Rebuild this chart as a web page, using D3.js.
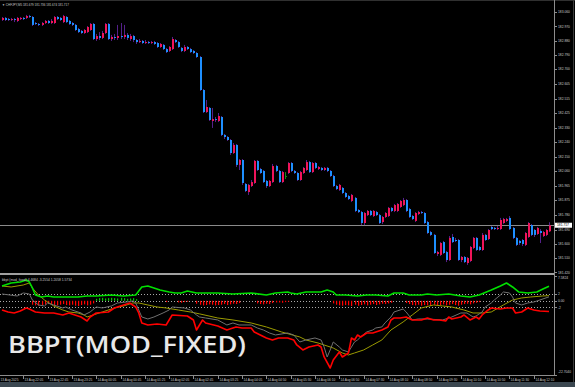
<!DOCTYPE html>
<html>
<head>
<meta charset="utf-8">
<script src="https://cdn.jsdelivr.net/npm/d3@7"></script>
<style>
  html, body { margin: 0; padding: 0; background: #000; overflow: hidden; }
</style>
</head>
<body>
<div id="chart"></div>
<script>
// Svg defs
let w = 575,
    h = 387;

// Data defs : candles as [open, high, low, close], CHFJPY M5
const candles = [
  [183.010,183.029,183.004,183.023],[183.023,183.029,183.004,183.010],[183.016,183.023,183.004,183.010],[183.010,183.023,183.004,183.016],
  [183.016,183.023,182.997,183.010],[183.004,183.029,182.997,183.023],[183.016,183.029,183.010,183.023],[183.023,183.029,183.010,183.016],
  [183.023,183.042,183.016,183.035],[183.035,183.042,183.023,183.029],[183.029,183.035,182.972,182.979],[182.991,182.997,182.979,182.985],
  [182.985,182.991,182.972,182.979],[182.979,182.997,182.972,182.991],[182.991,183.010,182.985,183.004],[183.004,183.010,182.985,182.991],
  [182.991,183.016,182.985,183.004],[182.991,183.035,182.985,183.029],[183.029,183.035,183.010,183.016],[183.023,183.029,183.004,183.010],
  [182.997,183.042,182.991,183.035],[183.029,183.035,182.991,182.997],[183.004,183.010,182.979,182.985],[182.991,182.997,182.972,182.979],
  [182.979,182.985,182.941,182.947],[182.953,182.960,182.928,182.934],[182.941,182.947,182.922,182.928],[182.928,182.953,182.922,182.947],
  [182.934,182.972,182.928,182.966],[182.947,182.991,182.941,182.985],[182.985,182.991,182.884,182.890],[182.890,182.922,182.878,182.909],
  [182.909,182.934,182.884,182.897],[182.897,182.941,182.890,182.928],[182.928,182.991,182.922,182.985],[182.985,182.991,182.884,182.890],
  [182.890,182.916,182.878,182.903],[182.903,182.922,182.884,182.897],[182.897,182.979,182.884,182.909],[182.909,182.991,182.890,182.903],
  [182.903,182.979,182.890,182.916],[182.916,182.928,182.884,182.897],[182.890,182.922,182.878,182.909],[182.909,182.916,182.871,182.884],
  [182.884,182.890,182.859,182.871],[182.871,182.890,182.865,182.878],[182.878,182.884,182.859,182.865],[182.865,182.884,182.859,182.871],
  [182.871,182.878,182.859,182.865],[182.865,182.878,182.859,182.871],[182.871,182.878,182.853,182.859],[182.865,182.871,182.834,182.840],
  [182.840,182.865,182.834,182.859],[182.853,182.859,182.821,182.827],[182.827,182.834,182.802,182.808],[182.815,182.846,182.808,182.840],
  [182.827,182.903,182.821,182.890],[182.884,182.890,182.865,182.871],[182.871,182.878,182.834,182.840],[182.834,182.840,182.808,182.815],
  [182.815,182.853,182.808,182.840],[182.840,182.846,182.821,182.827],[182.827,182.834,182.802,182.808],[182.815,182.821,182.796,182.802],
  [182.802,182.808,182.771,182.777],[182.777,182.783,182.563,182.569],[182.569,182.575,182.424,182.430],[182.430,182.506,182.424,182.462],
  [182.456,182.462,182.374,182.380],[182.374,182.456,182.330,182.386],[182.386,182.399,182.367,182.380],[182.374,182.424,182.367,182.405],
  [182.399,182.405,182.279,182.286],[182.286,182.292,182.260,182.273],[182.273,182.279,182.248,182.254],[182.254,182.260,182.160,182.172],
  [182.172,182.235,182.166,182.223],[182.223,182.229,182.084,182.097],[182.097,182.134,182.065,182.128],[182.128,182.134,181.971,181.983],
  [181.977,181.983,181.926,181.933],[181.926,181.977,181.908,181.971],[181.964,182.002,181.958,181.989],[181.983,182.128,181.977,182.122],
  [182.122,182.128,182.059,182.065],[182.071,182.078,182.040,182.046],[182.059,182.065,181.983,181.989],[181.996,182.002,181.952,181.964],
  [181.964,182.002,181.958,181.996],[181.989,182.103,181.983,182.090],[182.090,182.097,182.052,182.059],[182.059,182.065,181.983,181.989],
  [181.989,182.059,181.983,182.052],[182.027,182.052,182.008,182.027],[182.046,182.115,182.040,182.109],[182.109,182.115,182.052,182.059],
  [182.059,182.065,182.040,182.046],[182.046,182.052,181.996,182.002],[182.002,182.059,181.996,182.052],[182.046,182.084,182.040,182.078],
  [182.065,182.128,182.059,182.115],[182.115,182.122,182.046,182.052],[182.052,182.115,182.046,182.109],[182.109,182.115,182.071,182.078],
  [182.071,182.090,182.065,182.084],[182.078,182.084,182.059,182.065],[182.065,182.084,182.059,182.078],[182.078,182.084,182.052,182.059],
  [182.059,182.065,182.021,182.027],[182.027,182.034,181.958,181.964],[181.964,181.971,181.939,181.945],[181.939,181.977,181.933,181.971],
  [181.952,181.958,181.914,181.920],[181.920,181.926,181.889,181.895],[181.901,181.908,181.876,181.882],[181.870,181.914,181.863,181.908],
  [181.889,181.895,181.800,181.807],[181.813,181.819,181.794,181.800],[181.800,181.807,181.718,181.731],[181.731,181.800,181.718,181.794],
  [181.781,181.813,181.775,181.807],[181.807,181.813,181.775,181.781],[181.775,181.813,181.769,181.807],[181.800,181.807,181.775,181.781],
  [181.781,181.788,181.725,181.731],[181.737,181.775,181.725,181.769],[181.769,181.800,181.763,181.794],[181.775,181.832,181.769,181.826],
  [181.826,181.832,181.800,181.807],[181.807,181.851,181.800,181.844],[181.807,181.857,181.800,181.851],[181.832,181.876,181.826,181.870],
  [181.844,181.889,181.838,181.876],[181.876,181.882,181.800,181.807],[181.819,181.826,181.763,181.769],[181.775,181.781,181.750,181.756],
  [181.744,181.800,181.737,181.794],[181.788,181.807,181.781,181.800],[181.800,181.807,181.788,181.794],[181.794,181.800,181.725,181.731],
  [181.737,181.744,181.662,181.668],[181.674,181.681,181.649,181.656],[181.656,181.662,181.536,181.542],[181.536,181.555,181.523,181.548],
  [181.530,181.611,181.523,181.605],[181.611,181.618,181.536,181.542],[181.548,181.555,181.485,181.498],[181.498,181.649,181.492,181.637],
  [181.643,181.662,181.605,181.611],[181.624,181.637,181.611,181.618],[181.624,181.630,181.492,181.498],[181.498,181.523,181.485,181.517],
  [181.517,181.523,181.479,181.485],[181.479,181.517,181.467,181.511],[181.492,181.586,181.485,181.580],[181.574,181.643,181.567,181.637],
  [181.637,181.643,181.555,181.561],[181.580,181.586,181.555,181.561],[181.561,181.668,181.555,181.656],[181.656,181.662,181.618,181.624],
  [181.630,181.693,181.624,181.687],[181.706,181.712,181.687,181.693],[181.700,181.706,181.687,181.693],[181.693,181.712,181.687,181.700],
  [181.693,181.763,181.687,181.750],[181.731,181.763,181.725,181.756],[181.744,181.763,181.737,181.756],[181.763,181.775,181.687,181.693],
  [181.700,181.706,181.630,181.637],[181.637,181.643,181.586,181.593],[181.618,181.624,181.593,181.605],[181.624,181.630,181.586,181.599],
  [181.593,181.674,181.586,181.668],[181.643,181.737,181.637,181.731],[181.718,181.725,181.649,181.656],[181.687,181.693,181.643,181.656],
  [181.662,181.706,181.656,181.700],[181.681,181.693,181.605,181.668],[181.649,181.681,181.643,181.674],[181.656,181.693,181.649,181.687],
  [181.679,181.736,181.674,181.717]
];

const priceTicks = [183.060, 182.970, 182.880, 182.790, 182.700, 182.605, 182.515, 182.425, 182.330, 182.240,
                    182.150, 182.060, 181.965, 181.875, 181.780, 181.690, 181.600, 181.510, 181.420];
const lastPrice = 181.717;

const timeIdx = [-1, 7, 15, 23, 31, 39, 47, 55, 63, 71, 79, 87, 95, 103, 111, 119, 127, 135, 143, 151, 159, 167, 175];
const timeLabels = ["13 Aug 2025", "13 Aug 22:05", "13 Aug 22:45", "13 Aug 23:25", "14 Aug 00:05", "14 Aug 00:45",
                    "14 Aug 01:25", "14 Aug 02:05", "14 Aug 02:45", "14 Aug 03:25", "14 Aug 04:05", "14 Aug 04:50",
                    "14 Aug 05:30", "14 Aug 06:10", "14 Aug 06:50", "14 Aug 07:30", "14 Aug 08:10", "14 Aug 08:50",
                    "14 Aug 09:30", "14 Aug 10:10", "14 Aug 10:50", "14 Aug 11:30", "14 Aug 12:10"];

// Indicator (bbpt mod_fixed) : histogram, one value per bar
const hist = [
  0,0,0,0,0,0,0,0,0,0,
  -1.2,-1.4,-1.5,-1.3,-1.2,-1.0,-1.3,-1.5,-1.4,-1.2,-1.0,-1.3,-1.4,-1.2,-1.5,-1.6,-1.3,-1.1,-1.4,-1.2,-0.8,
  0.6,0.8,0.9,0.7,0.8,0.9,0.8,0.7,0.9,0.8,0.6,0.7,0.8,0.5,
  0,0,0,0,0,0,0,0,0,
  -0.4, 0,0,0, -0.5,-0.6,-0.4,-0.3, 0,0,
  -0.9,-1.2,-1.4,-1.3,-1.1,-1.2,-1.4,-1.3,-1.2,-1.0,-1.3,-1.1,-0.9,-1.0,-0.7,
  0,0,0,0,0,
  -0.8,-1.0,-1.1,-0.9,-1.0,-0.7,-0.5,
  -0.5,-0.6,-0.4,-0.3,
  0,0,0,0,0,0,0,0,0,0,0,0,0,0,
  -0.8,-1.2,-1.4,-1.5,-1.3,-1.4,-1.6,-1.2,-1.5,-1.3,-1.1,-1.4,-1.2,-1.0,-1.3,-1.1,-0.9,-1.0,-0.8,-0.6,
  0,0,0,0,
  -0.7,-1.0,-1.3,-1.4,-1.2,-1.5,-1.3,-1.4,-1.6,-1.2,-1.5,-1.3,-1.1,-1.4,-1.2,-1.0,-1.3,-1.5,-1.2,-1.0,-0.9,-1.1,-0.8,-0.6,-0.4,
  0,0,0,0,0,0,0,0,0,0,0,0,0,0,0,0,0,0,0,0,0,0,0
];

// lines as [bar, value]
const upperLine = [[0,4.53],[3,5.45],[6,5.75],[8,6.36],[9,5.75],[10,3.92],[11,1.77],[13,1.16],[15,1.47],[17,1.16],
  [20,1.16],[25,1.16],[28,1.47],[31,1.47],[36,1.77],[40,1.47],[44,1.77],[45,3.0],[46,4.22],[48,4.53],[50,3.92],
  [52,3.3],[55,2.69],[57,2.39],[59,2.39],[61,3.0],[64,2.39],[71,2.39],[76,2.08],[82,2.39],[87,1.77],[90,2.39],
  [94,2.69],[95,2.39],[97,2.08],[100,2.69],[105,2.69],[107,3.3],[109,2.69],[110,1.77],[113,1.77],[117,1.47],
  [120,1.77],[123,1.77],[127,1.47],[129,2.39],[132,2.39],[134,1.77],[138,1.77],[140,2.08],[143,1.77],[147,2.08],
  [151,1.47],[154,1.16],[157,1.77],[161,3.3],[164,4.53],[166,5.45],[168,4.22],[170,2.69],[173,2.39],[176,2.69],
  [178,3.61],[180,4.47]];

const lowerLine = [[0,-2.81],[2,-3.43],[4,-3.73],[6,-3.12],[8,-2.2],[9,-2.51],[11,-3.43],[14,-3.73],[17,-3.73],
  [20,-4.34],[22,-3.73],[26,-4.96],[28,-6.18],[29,-4.96],[31,-3.73],[35,-3.43],[37,-2.2],[40,-1.28],[42,-0.67],
  [44,-1.9],[45,-3.73],[46,-6.79],[48,-7.4],[51,-7.1],[54,-7.4],[55,-5.87],[56,-4.34],[61,-4.65],[63,-5.87],
  [64,-8.93],[65,-7.4],[66,-5.87],[67,-6.79],[71,-7.7],[74,-8.93],[77,-8.01],[79,-8.32],[82,-8.32],[83,-9.54],
  [85,-10.46],[87,-11.38],[89,-11.99],[91,-11.38],[94,-11.38],[96,-11.99],[97,-13.52],[99,-15.05],[101,-14.13],
  [104,-13.52],[105,-14.13],[106,-17.19],[108,-20.56],[109,-18.11],[111,-15.66],[112,-17.19],[114,-15.97],
  [115,-11.38],[116,-11.99],[117,-10.46],[118,-11.07],[120,-9.85],[122,-9.85],[123,-9.54],[125,-8.93],[127,-8.01],
  [128,-5.87],[129,-5.26],[131,-5.26],[133,-4.96],[135,-5.87],[138,-5.87],[140,-5.26],[142,-5.87],[144,-5.87],
  [146,-6.18],[147,-4.96],[148,-5.57],[151,-4.96],[152,-4.34],[154,-5.87],[156,-4.96],[157,-5.57],[158,-4.34],
  [160,-2.81],[161,-2.2],[164,-2.51],[166,-2.2],[168,-2.2],[169,-3.73],[171,-3.43],[173,-2.2],[175,-2.81],
  [177,-3.12],[180,-3.26]];

const signalLine = [[0,2.08],[5,1.47],[7,2.39],[9,2.08],[10,0.24],[12,-1.28],[14,-1.59],[15,-0.67],[17,-1.28],
  [20,-2.2],[21,-1.9],[23,-2.81],[26,-3.73],[27,-4.34],[29,-3.43],[31,-1.9],[33,-2.2],[36,-1.59],[38,-0.67],
  [41,-0.37],[43,-0.06],[44,-0.67],[45,-2.81],[46,-4.96],[48,-5.57],[50,-4.96],[53,-3.73],[55,-2.81],[56,-1.9],
  [60,-2.2],[62,-2.81],[64,-4.34],[65,-4.96],[67,-5.26],[71,-5.87],[74,-7.4],[76,-6.79],[78,-7.4],[82,-7.4],
  [84,-8.32],[86,-8.93],[88,-9.85],[90,-10.46],[94,-9.85],[96,-10.46],[98,-12.6],[100,-11.99],[103,-11.38],
  [105,-11.99],[106,-14.13],[107,-17.19],[108,-15.05],[109,-12.6],[111,-14.13],[112,-15.05],[114,-15.66],
  [115,-14.13],[116,-12.6],[117,-11.99],[118,-11.07],[120,-9.54],[122,-8.93],[123,-8.32],[125,-8.01],[126,-6.79],
  [128,-4.96],[129,-3.43],[132,-2.51],[133,-3.43],[135,-5.87],[137,-5.57],[140,-5.57],[145,-5.87],[148,-4.96],
  [151,-3.73],[153,-3.73],[155,-4.96],[156,-4.65],[158,-3.43],[159,-1.9],[161,-0.67],[162,0.24],[164,1.77],
  [165,2.69],[167,2.39],[168,1.16],[169,-0.67],[171,-1.28],[173,-0.67],[175,-0.37],[177,0.24],[180,1.21]];

const maLine = [[0,4.53],[3,4.22],[7,4.83],[9,5.45],[10,3.92],[12,1.77],[14,0.24],[17,-1.59],[20,-2.81],[22,-3.43],
  [25,-3.73],[27,-4.34],[28,-4.96],[30,-4.34],[33,-3.43],[37,-2.2],[40,-1.59],[43,-0.67],[45,-0.67],[48,-1.28],
  [51,-1.9],[54,-2.2],[58,-2.81],[62,-3.43],[65,-4.0],[71,-5.26],[76,-5.87],[82,-6.79],[87,-8.01],[92,-9.54],
  [98,-11.07],[100,-11.99],[104,-12.91],[109,-14.44],[112,-15.97],[114,-16.58],[116,-15.97],[119,-15.05],
  [122,-13.52],[125,-11.99],[128,-8.93],[132,-6.48],[135,-4.34],[138,-2.2],[142,-1.28],[145,-1.59],[148,-1.9],
  [152,-2.81],[155,-3.73],[158,-3.73],[161,-3.43],[165,-1.28],[168,0.24],[171,0.86],[174,1.16],[178,1.47],[180,1.57]];

const indTicks = [7.5824, 2, 0, -2, -22.704];
const indTickLabels = ["7.5824", "2", "0.00", "-2", "-22.7040"];
const indLevels = [2, 0, -2];

// Colours
const bullCol = "#f0145a", bearCol = "#1e8fff", wickCol = "#55208a", dojiCol = "#168a16";
const axisCol = "#8c8c8c", textCol = "#c8c8c8";
const font = "Liberation Sans, Arial, sans-serif";

// Scales
const plotRight = 555;
const x = d3.scaleLinear().domain([0, candles.length - 1]).range([2, 549]);
const yP = d3.scaleLinear().domain([181.4224, 183.136]).range([272, 0]);
const yI = d3.scaleLinear().domain([-22.704, 7.5824]).range([375, 276]);
const cx = i => Math.round(x(i));

// Create svg canvas
const svg = d3.select("#chart")
    .append("svg")
    .attr("width", w)
    .attr("height", h)
    .attr("viewBox", [0, 0, w, h])
    .style("display", "block");

svg.append("rect").attr("width", w).attr("height", h).attr("fill", "#000");

const defs = svg.append("defs");
defs.append("clipPath").attr("id", "clipMain")
  .append("rect").attr("x", 0).attr("y", 0).attr("width", plotRight - 1).attr("height", 272);
defs.append("clipPath").attr("id", "clipInd")
  .append("rect").attr("x", 0).attr("y", 276).attr("width", plotRight - 1).attr("height", 99);

// top border
svg.append("line").attr("x1", 0).attr("x2", w).attr("y1", 0.5).attr("y2", 0.5).attr("stroke", "#303030");

// current price line
svg.append("line")
  .attr("x1", 0).attr("x2", plotRight)
  .attr("y1", Math.round(yP(lastPrice)) + 0.5).attr("y2", Math.round(yP(lastPrice)) + 0.5)
  .attr("stroke", "#8a8a8a");

// Candles
const gC = svg.append("g").attr("clip-path", "url(#clipMain)");
gC.selectAll("line")
  .data(candles)
  .join("line")
    .attr("x1", (d, i) => cx(i) + 0.5)
    .attr("x2", (d, i) => cx(i) + 0.5)
    .attr("y1", d => yP(d[1]))
    .attr("y2", d => yP(d[2]))
    .attr("stroke", d => d[0] === d[3] ? dojiCol : wickCol);
gC.selectAll("rect")
  .data(candles)
  .join("rect")
    .attr("x", (d, i) => cx(i))
    .attr("width", 2)
    .attr("y", d => yP(Math.max(d[0], d[3])))
    .attr("height", d => Math.max(1, Math.abs(yP(d[0]) - yP(d[3]))))
    .attr("fill", d => d[0] === d[3] ? dojiCol : (d[3] > d[0] ? bullCol : bearCol));

// Pane separator
svg.append("rect").attr("x", 0).attr("y", 273).attr("width", plotRight).attr("height", 2).attr("fill", "#a0a0a0");

// Indicator levels
svg.append("g")
  .selectAll("line")
  .data(indLevels)
  .join("line")
    .attr("x1", 0).attr("x2", plotRight)
    .attr("y1", d => Math.round(yI(d)) + 0.5)
    .attr("y2", d => Math.round(yI(d)) + 0.5)
    .attr("stroke", "#a8a8a8")
    .attr("stroke-dasharray", "1,2");

const gI = svg.append("g").attr("clip-path", "url(#clipInd)");

// Histogram
gI.append("g")
  .selectAll("rect")
  .data(hist.map((v, i) => [i, v]).filter(d => d[1] !== 0))
  .join("rect")
    .attr("x", d => cx(d[0]))
    .attr("width", 1.2)
    .attr("y", d => yI(Math.max(0, d[1])))
    .attr("height", d => Math.abs(yI(d[1]) - yI(0)))
    .attr("fill", d => d[1] > 0 ? "#00d000" : "#ff0000");

const line = d3.line().x(d => x(d[0])).y(d => yI(d[1]));
gI.append("path").datum(maLine).attr("d", line)
  .attr("fill", "none").attr("stroke", "#9b9b00").attr("stroke-width", 1);
gI.append("path").datum(signalLine).attr("d", line)
  .attr("fill", "none").attr("stroke", "#707070").attr("stroke-width", 1);
gI.append("path").datum(lowerLine).attr("d", line)
  .attr("fill", "none").attr("stroke", "#ff0000").attr("stroke-width", 1.6).attr("stroke-linejoin", "round");
gI.append("path").datum(upperLine).attr("d", line)
  .attr("fill", "none").attr("stroke", "#00e000").attr("stroke-width", 1.6).attr("stroke-linejoin", "round");

// Big overlay caption
svg.append("text")
  .attr("x", 8).attr("y", 353)
  .attr("fill", "#e8e8e8")
  .attr("font-family", "Open Sans, sans-serif")
  .attr("font-weight", 600)
  .attr("font-size", 23.5)
  .attr("textLength", 238)
  .attr("lengthAdjust", "spacingAndGlyphs")
  .text("BBPT(MOD_FIXED)");

// Right axis
svg.append("line").attr("x1", plotRight - 0.5).attr("x2", plotRight - 0.5).attr("y1", 0).attr("y2", 376).attr("stroke", axisCol);
svg.append("line").attr("x1", 573.5).attr("x2", 573.5).attr("y1", 0).attr("y2", 383).attr("stroke", "#3a3a3a");

const gPA = svg.append("g");
gPA.selectAll("line")
  .data(priceTicks)
  .join("line")
    .attr("x1", plotRight).attr("x2", plotRight + 2)
    .attr("y1", d => Math.round(yP(d)) + 0.5).attr("y2", d => Math.round(yP(d)) + 0.5)
    .attr("stroke", axisCol);
gPA.selectAll("text")
  .data(priceTicks)
  .join("text")
    .attr("x", plotRight + 3)
    .attr("y", d => yP(d) + 1.2)
    .attr("fill", textCol)
    .attr("font-family", font)
    .attr("font-size", 3.3)
    .text(d => d.toFixed(3));

// last price box
svg.append("rect")
  .attr("x", plotRight).attr("y", yP(lastPrice) - 2.5)
  .attr("width", 17).attr("height", 5)
  .attr("fill", "#ffffff");
svg.append("text")
  .attr("x", plotRight + 2).attr("y", yP(lastPrice) + 1.2)
  .attr("fill", "#000")
  .attr("font-family", font)
  .attr("font-size", 3.3)
  .text(lastPrice.toFixed(3));

// indicator axis
const gIA = svg.append("g");
gIA.selectAll("line")
  .data(indTicks)
  .join("line")
    .attr("x1", plotRight).attr("x2", plotRight + 2)
    .attr("y1", d => Math.round(yI(d)) + 0.5).attr("y2", d => Math.round(yI(d)) + 0.5)
    .attr("stroke", axisCol);
gIA.selectAll("text")
  .data(indTicks)
  .join("text")
    .attr("x", plotRight + 3)
    .attr("y", (d, i) => yI(d) + (i === 0 ? 3.3 : i === indTicks.length - 1 ? -2 : 1.2))
    .attr("fill", textCol)
    .attr("font-family", font)
    .attr("font-size", 3.3)
    .text((d, i) => indTickLabels[i]);

// Time axis
svg.append("line").attr("x1", 0).attr("x2", plotRight).attr("y1", 375.5).attr("y2", 375.5).attr("stroke", axisCol);
const gT = svg.append("g");
gT.selectAll("line")
  .data(timeIdx)
  .join("line")
    .attr("x1", d => cx(d) + 0.5).attr("x2", d => cx(d) + 0.5)
    .attr("y1", 376).attr("y2", 379)
    .attr("stroke", axisCol);
gT.selectAll("text")
  .data(timeIdx)
  .join("text")
    .attr("x", d => cx(d) + 1.5)
    .attr("y", 380.5)
    .attr("fill", textCol)
    .attr("font-family", font)
    .attr("font-size", 3.2)
    .text((d, i) => timeLabels[i]);

svg.append("rect").attr("x", 0).attr("y", 382).attr("width", w).attr("height", 5).attr("fill", "#3b4750");

// Titles
svg.append("text")
  .attr("x", 2).attr("y", 5.5)
  .attr("fill", textCol)
  .attr("font-family", font)
  .attr("font-size", 3)
  .text("\u25BC  CHFJPY,M5  181.679 181.736 181.674 181.717");
svg.append("text")
  .attr("x", 2).attr("y", 280.5)
  .attr("fill", textCol)
  .attr("font-family", font)
  .attr("font-size", 3.3)
  .text("bbpt (mod_fixed) 4.4684 -3.2554 1.2058 1.5734");
</script>
</body>
</html>
